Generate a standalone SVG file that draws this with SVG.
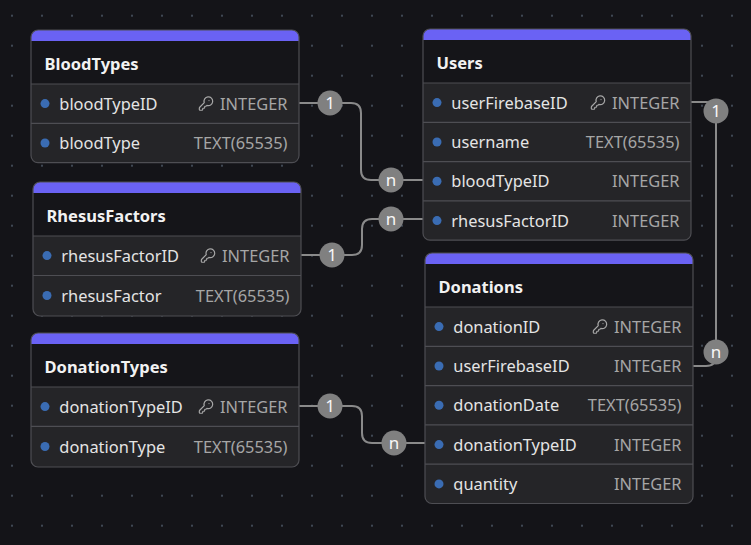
<svg xmlns="http://www.w3.org/2000/svg" xmlns:xlink="http://www.w3.org/1999/xlink" width="751" height="545" viewBox="0 0 751 545">
<style>
.body{fill:#252528}
.head{fill:#151519}
.bar{fill:#6a62f4}
.border{fill:none;stroke:#4e4e53;stroke-width:1.2}
.sep{stroke:#4e4e53;stroke-width:1.2}
.title{font-family:"Noto Sans","Liberation Sans",sans-serif;font-size:16.5px;font-weight:bold;fill:#f2f2f2}
.name{font-family:"Noto Sans","Liberation Sans",sans-serif;font-size:16.4px;fill:#e4e4e4}
.type{font-family:"Noto Sans","Liberation Sans",sans-serif;font-size:16.4px;fill:#a6a6a6;text-anchor:end}
.dot{fill:#3a6cb3}
.conn{fill:none;stroke:#8a8a8a;stroke-width:2}
.badge{fill:#808080}
.blabel{font-family:"Noto Sans","Liberation Sans",sans-serif;font-size:17px;fill:#f7f7f7;text-anchor:middle}
</style>
<defs>
<pattern id="grid" x="-3" y="0.7" width="30" height="30" patternUnits="userSpaceOnUse">
<circle cx="15" cy="15" r="1" fill="#4d5866"/>
</pattern>
<symbol id="key" viewBox="0 0 24 24">
<path d="M2.586 17.414A2 2 0 0 0 2 18.828V21a1 1 0 0 0 1 1h3a1 1 0 0 0 1-1v-1a1 1 0 0 1 1-1h1a1 1 0 0 0 1-1v-1a1 1 0 0 1 1-1h.172a2 2 0 0 0 1.414-.586l.814-.814a6.5 6.5 0 1 0-4-4z" fill="none" stroke="#a6a6a6" stroke-width="1.8" stroke-linecap="round" stroke-linejoin="round"/>
<circle cx="16.5" cy="7.5" r="0.9" fill="#a6a6a6"/>
</symbol>
</defs>
<rect width="751" height="545" fill="#141418"/>
<rect width="751" height="545" fill="url(#grid)"/>

<g id="connectors">
<path class="conn" d="M299,103 H351 Q361,103 361,113 V170 Q361,180 371,180 H423"/>
<path class="conn" d="M301,255 H352 Q362,255 362,245 V229 Q362,219 372,219 H423"/>
<path class="conn" d="M691,102 H706 Q716,102 716,112 V356 Q716,366 706,366 H693"/>
<path class="conn" d="M299,406 H352 Q362,406 362,416 V433 Q362,443 372,443 H425"/>
<circle class="badge" cx="330" cy="103" r="12.5"/><text class="blabel" x="330" y="109">1</text>
<circle class="badge" cx="391" cy="180" r="12.5"/><text class="blabel" x="391" y="185.5">n</text>
<circle class="badge" cx="332" cy="255" r="12.5"/><text class="blabel" x="332" y="261">1</text>
<circle class="badge" cx="391" cy="219" r="12.5"/><text class="blabel" x="391" y="224.5">n</text>
<circle class="badge" cx="716" cy="111" r="12.5"/><text class="blabel" x="716" y="117">1</text>
<circle class="badge" cx="716" cy="352" r="12.5"/><text class="blabel" x="716" y="357.5">n</text>
<circle class="badge" cx="330" cy="406" r="12.5"/><text class="blabel" x="330" y="412">1</text>
<circle class="badge" cx="394" cy="443" r="12.5"/><text class="blabel" x="394" y="448.5">n</text>
</g>

<g id="BloodTypes" transform="translate(31,30)">
<rect class="body" width="268" height="132.6" rx="7"/>
<path class="head" d="M0,7 A7,7 0 0 1 7,0 H261 A7,7 0 0 1 268,7 V54 H0 Z"/>
<path class="bar" d="M0,7 A7,7 0 0 1 7,0 H261 A7,7 0 0 1 268,7 V11 H0 Z"/>
<line class="sep" x1="0" y1="54" x2="268" y2="54"/>
<line class="sep" x1="0" y1="93.3" x2="268" y2="93.3"/>
<rect class="border" width="268" height="132.6" rx="7"/>
<text class="title" x="13.5" y="39.5">BloodTypes</text>
<circle class="dot" cx="14" cy="73.6" r="4.5"/><text class="name" x="28.3" y="79.6">bloodTypeID</text>
<use xlink:href="#key" x="167" y="65.6" width="16" height="16"/><text class="type" x="256.5" y="79.6">INTEGER</text>
<circle class="dot" cx="14" cy="113" r="4.5"/><text class="name" x="28.3" y="119">bloodType</text>
<text class="type" x="256.5" y="119">TEXT(65535)</text>
</g>

<g id="Users" transform="translate(423,29)">
<rect class="body" width="268" height="211.2" rx="7"/>
<path class="head" d="M0,7 A7,7 0 0 1 7,0 H261 A7,7 0 0 1 268,7 V54 H0 Z"/>
<path class="bar" d="M0,7 A7,7 0 0 1 7,0 H261 A7,7 0 0 1 268,7 V11 H0 Z"/>
<line class="sep" x1="0" y1="54" x2="268" y2="54"/>
<line class="sep" x1="0" y1="93.3" x2="268" y2="93.3"/>
<line class="sep" x1="0" y1="132.6" x2="268" y2="132.6"/>
<line class="sep" x1="0" y1="171.9" x2="268" y2="171.9"/>
<rect class="border" width="268" height="211.2" rx="7"/>
<text class="title" x="13.5" y="39.5">Users</text>
<circle class="dot" cx="14" cy="73.6" r="4.5"/><text class="name" x="28.3" y="79.6">userFirebaseID</text>
<use xlink:href="#key" x="167" y="65.6" width="16" height="16"/><text class="type" x="256.5" y="79.6">INTEGER</text>
<circle class="dot" cx="14" cy="113" r="4.5"/><text class="name" x="28.3" y="119">username</text>
<text class="type" x="256.5" y="119">TEXT(65535)</text>
<circle class="dot" cx="14" cy="152.3" r="4.5"/><text class="name" x="28.3" y="158.3">bloodTypeID</text>
<text class="type" x="256.5" y="158.3">INTEGER</text>
<circle class="dot" cx="14" cy="191.6" r="4.5"/><text class="name" x="28.3" y="197.6">rhesusFactorID</text>
<text class="type" x="256.5" y="197.6">INTEGER</text>
</g>

<g id="RhesusFactors" transform="translate(33,182)">
<rect class="body" width="268" height="134" rx="7"/>
<path class="head" d="M0,7 A7,7 0 0 1 7,0 H261 A7,7 0 0 1 268,7 V54 H0 Z"/>
<path class="bar" d="M0,7 A7,7 0 0 1 7,0 H261 A7,7 0 0 1 268,7 V11 H0 Z"/>
<line class="sep" x1="0" y1="54" x2="268" y2="54"/>
<line class="sep" x1="0" y1="93.5" x2="268" y2="93.5"/>
<rect class="border" width="268" height="134" rx="7"/>
<text class="title" x="13.5" y="39.5">RhesusFactors</text>
<circle class="dot" cx="14" cy="73.6" r="4.5"/><text class="name" x="28.3" y="79.6">rhesusFactorID</text>
<use xlink:href="#key" x="167" y="65.6" width="16" height="16"/><text class="type" x="256.5" y="79.6">INTEGER</text>
<circle class="dot" cx="14" cy="113.5" r="4.5"/><text class="name" x="28.3" y="119.5">rhesusFactor</text>
<text class="type" x="256.5" y="119.5">TEXT(65535)</text>
</g>

<g id="DonationTypes" transform="translate(31,333)">
<rect class="body" width="268" height="134" rx="7"/>
<path class="head" d="M0,7 A7,7 0 0 1 7,0 H261 A7,7 0 0 1 268,7 V54 H0 Z"/>
<path class="bar" d="M0,7 A7,7 0 0 1 7,0 H261 A7,7 0 0 1 268,7 V11 H0 Z"/>
<line class="sep" x1="0" y1="54" x2="268" y2="54"/>
<line class="sep" x1="0" y1="93.3" x2="268" y2="93.3"/>
<rect class="border" width="268" height="134" rx="7"/>
<text class="title" x="13.5" y="39.5">DonationTypes</text>
<circle class="dot" cx="14" cy="73.6" r="4.5"/><text class="name" x="28.3" y="79.6">donationTypeID</text>
<use xlink:href="#key" x="167" y="65.6" width="16" height="16"/><text class="type" x="256.5" y="79.6">INTEGER</text>
<circle class="dot" cx="14" cy="113.5" r="4.5"/><text class="name" x="28.3" y="119.5">donationType</text>
<text class="type" x="256.5" y="119.5">TEXT(65535)</text>
</g>

<g id="Donations" transform="translate(425,253)">
<rect class="body" width="268" height="250.5" rx="7"/>
<path class="head" d="M0,7 A7,7 0 0 1 7,0 H261 A7,7 0 0 1 268,7 V54 H0 Z"/>
<path class="bar" d="M0,7 A7,7 0 0 1 7,0 H261 A7,7 0 0 1 268,7 V11 H0 Z"/>
<line class="sep" x1="0" y1="54" x2="268" y2="54"/>
<line class="sep" x1="0" y1="93.3" x2="268" y2="93.3"/>
<line class="sep" x1="0" y1="132.6" x2="268" y2="132.6"/>
<line class="sep" x1="0" y1="171.9" x2="268" y2="171.9"/>
<line class="sep" x1="0" y1="211.2" x2="268" y2="211.2"/>
<rect class="border" width="268" height="250.5" rx="7"/>
<text class="title" x="13.5" y="39.5">Donations</text>
<circle class="dot" cx="14" cy="73.6" r="4.5"/><text class="name" x="28.3" y="79.6">donationID</text>
<use xlink:href="#key" x="167" y="65.6" width="16" height="16"/><text class="type" x="256.5" y="79.6">INTEGER</text>
<circle class="dot" cx="14" cy="113" r="4.5"/><text class="name" x="28.3" y="119">userFirebaseID</text>
<text class="type" x="256.5" y="119">INTEGER</text>
<circle class="dot" cx="14" cy="152.3" r="4.5"/><text class="name" x="28.3" y="158.3">donationDate</text>
<text class="type" x="256.5" y="158.3">TEXT(65535)</text>
<circle class="dot" cx="14" cy="191.6" r="4.5"/><text class="name" x="28.3" y="197.6">donationTypeID</text>
<text class="type" x="256.5" y="197.6">INTEGER</text>
<circle class="dot" cx="14" cy="230.9" r="4.5"/><text class="name" x="28.3" y="236.9">quantity</text>
<text class="type" x="256.5" y="236.9">INTEGER</text>
</g>
</svg>
